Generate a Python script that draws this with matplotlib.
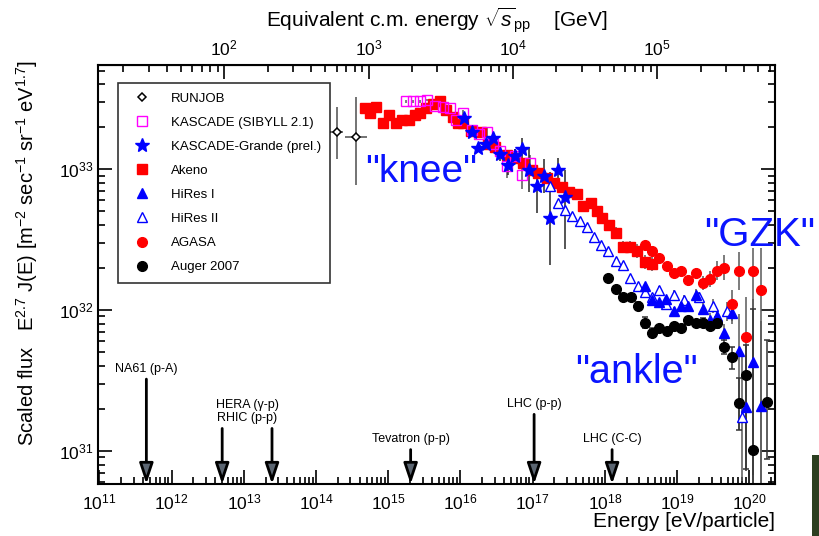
import numpy as np
import matplotlib
matplotlib.use('Agg')
import matplotlib.pyplot as plt
from matplotlib.lines import Line2D
from matplotlib.patches import Rectangle
from matplotlib.ticker import LogLocator, FixedLocator, NullFormatter, LogFormatterSciNotation

plt.rcParams['font.family'] = ['Liberation Sans', 'DejaVu Sans']
plt.rcParams['mathtext.fontset'] = 'custom'
plt.rcParams['mathtext.rm'] = 'Liberation Sans'
plt.rcParams['mathtext.it'] = 'Liberation Sans:italic'
plt.rcParams['mathtext.bf'] = 'Liberation Sans:bold'

# all values as log10(E/eV) and log10(flux)
runjob_lgE = [14.29, 14.55]
runjob_lgF = [33.26, 33.23]
runjob_xerr = [0.09, 0.15]
runjob_lo = [0.19, 0.34]
runjob_hi = [0.18, 0.28]

akeno_lgE = [14.68, 14.75, 14.83, 14.93, 15.01, 15.11, 15.19, 15.29, 15.37, 15.44,
             15.52, 15.62, 15.72, 15.80, 15.90, 15.97, 16.03, 16.15, 16.28, 16.38,
             16.48, 16.64, 16.73, 16.87, 16.99, 17.07, 17.20, 17.29, 17.41, 17.50,
             17.61, 17.70, 17.81, 17.89, 17.96, 18.06, 18.15, 18.25, 18.35, 18.44,
             18.55, 18.65]
akeno_lgF = [33.43, 33.40, 33.44, 33.33, 33.38, 33.33, 33.35, 33.35, 33.38, 33.40,
             33.43, 33.46, 33.48, 33.42, 33.37, 33.33, 33.33, 33.27, 33.26, 33.18,
             33.16, 33.10, 33.08, 33.04, 32.99, 32.97, 32.94, 32.90, 32.87, 32.84,
             32.82, 32.74, 32.76, 32.70, 32.65, 32.60, 32.55, 32.45, 32.45, 32.42,
             32.34, 32.33]
akeno_err = [0.01, 0.01, 0.01, 0.01, 0.01, 0.01, 0.01, 0.01, 0.01, 0.01,
             0.01, 0.01, 0.01, 0.01, 0.01, 0.01, 0.01, 0.01, 0.01, 0.01,
             0.01, 0.01, 0.01, 0.01, 0.01, 0.01, 0.01, 0.01, 0.02, 0.02,
             0.02, 0.03, 0.03, 0.03, 0.03, 0.03, 0.04, 0.04, 0.04, 0.05,
             0.05, 0.05]

kascade_lgE = [15.25, 15.34, 15.44, 15.54, 15.65, 15.76, 15.85, 15.94, 16.03, 16.16,
               16.26, 16.37, 16.45, 16.55, 16.64, 16.75, 16.85, 16.96]
kascade_lgF = [33.48, 33.48, 33.48, 33.49, 33.45, 33.44, 33.43, 33.35, 33.40, 33.28,
               33.25, 33.26, 33.18, 33.13, 33.02, 33.09, 32.96, 33.04]
kascade_err = [0.01, 0.01, 0.01, 0.01, 0.01, 0.01, 0.01, 0.01, 0.02, 0.02,
               0.02, 0.03, 0.03, 0.04, 0.08, 0.05, 0.10, 0.06]

grande_lgE = [16.05, 16.16, 16.24, 16.35, 16.45, 16.55, 16.66, 16.75, 16.85, 16.95,
              17.06, 17.16, 17.24, 17.35, 17.45]
grande_lgF = [33.36, 33.26, 33.15, 33.18, 33.22, 33.11, 33.03, 33.09, 33.14, 32.99,
              32.88, 32.95, 32.65, 32.99, 32.80]
grande_lo = [0.02, 0.02, 0.03, 0.03, 0.04, 0.05, 0.07, 0.05, 0.08, 0.15,
             0.19, 0.12, 0.33, 0.12, 0.37]
grande_hi = [0.02, 0.02, 0.03, 0.03, 0.04, 0.05, 0.06, 0.05, 0.08, 0.17,
             0.11, 0.12, 0.33, 0.09, 0.19]

hires1_lgE = [18.55, 18.65, 18.75, 18.85, 18.96, 19.05, 19.15, 19.26, 19.36, 19.46,
              19.55, 19.65, 19.76, 19.86, 19.95, 20.05, 20.16]
hires1_lgF = [32.17, 32.07, 32.06, 32.08, 31.99, 32.03, 32.03, 32.11, 32.01, 31.93,
              31.96, 31.84, 31.98, 31.71, 31.31, 31.63, 31.32]
hires1_lo = [0.02, 0.02, 0.02, 0.02, 0.03, 0.03, 0.03, 0.04, 0.04, 0.05,
             0.05, 0.06, 0.08, 0.56, 0.45, 0.80, 1.20]
hires1_hi = [0.02, 0.02, 0.02, 0.02, 0.03, 0.03, 0.03, 0.04, 0.04, 0.05,
             0.05, 0.06, 0.08, 0.26, 0.44, 0.45, 0.60]

hires2_lgE = [17.24, 17.35, 17.45, 17.54, 17.65, 17.75, 17.85, 17.95, 18.04, 18.15,
              18.25, 18.35, 18.46, 18.55, 18.65, 18.75, 18.85, 18.96, 19.10, 19.30,
              19.50, 19.69, 19.90]
hires2_lgF = [32.88, 32.76, 32.71, 32.67, 32.63, 32.59, 32.52, 32.46, 32.42, 32.35,
              32.32, 32.23, 32.17, 32.13, 32.09, 32.14, 32.04, 32.11, 32.07, 32.09,
              32.03, 31.99, 31.24]
hires2_err = [0.01, 0.01, 0.01, 0.01, 0.01, 0.01, 0.01, 0.01, 0.01, 0.01,
              0.01, 0.02, 0.02, 0.02, 0.02, 0.03, 0.03, 0.03, 0.04, 0.04,
              0.05, 0.07, 0.45]

agasa_lgE = [18.55, 18.65, 18.75, 18.86, 18.96, 19.05, 19.15, 19.26, 19.36, 19.46,
             19.55, 19.65, 19.76, 19.86, 19.95, 20.05, 20.16]
agasa_lgF = [32.46, 32.42, 32.37, 32.31, 32.26, 32.28, 32.21, 32.26, 32.19, 32.22,
             32.28, 32.30, 32.04, 32.28, 31.81, 32.28, 32.14]
agasa_lo = [0.02, 0.02, 0.02, 0.03, 0.03, 0.03, 0.04, 0.04, 0.05, 0.06,
            0.07, 0.09, 0.12, 0.14, 0.95, 1.60, 1.50]
agasa_hi = [0.02, 0.02, 0.02, 0.03, 0.03, 0.03, 0.04, 0.04, 0.05, 0.06,
            0.07, 0.09, 0.10, 0.13, 0.28, 0.16, 0.30]

auger_lgE = [18.04, 18.15, 18.25, 18.36, 18.46, 18.55, 18.65, 18.75, 18.86, 18.96,
             19.05, 19.15, 19.26, 19.36, 19.46, 19.55, 19.65, 19.76, 19.86, 19.95,
             20.05, 20.25]
auger_lgF = [32.23, 32.15, 32.09, 32.09, 32.03, 31.91, 31.84, 31.87, 31.85, 31.89,
             31.87, 31.93, 31.91, 31.91, 31.89, 31.91, 31.74, 31.67, 31.34, 31.54,
             31.01, 31.35]
auger_lo = [0.01, 0.01, 0.02, 0.02, 0.03, 0.04, 0.03, 0.02, 0.02, 0.02,
            0.02, 0.02, 0.02, 0.03, 0.03, 0.04, 0.05, 0.09, 0.19, 0.67,
            1.00, 0.41]
auger_hi = [0.01, 0.01, 0.02, 0.02, 0.03, 0.04, 0.03, 0.02, 0.02, 0.02,
            0.02, 0.02, 0.02, 0.03, 0.03, 0.04, 0.05, 0.07, 0.18, 0.21,
            1.00, 0.44]

# accelerator equivalent energies (log10 E/eV)
colliders = ['NA61 (p-A)', 'HERA (γ-p)', 'RHIC (p-p)', 'Tevatron (p-p)', 'LHC (p-p)', 'LHC (C-C)']
collider_lgE = [11.65, 12.70, 13.39, 15.31, 17.02, 18.10]

# tick decades
energy_decades = [11, 12, 13, 14, 15, 16, 17, 18, 19, 20]
sqrts_decades = [2, 3, 4, 5]
flux_decades = [31, 32, 33]


def draw(lgE, lgF, lo, hi, ecolor='0.35', capsize=0, **mk):
    E = 10 ** np.asarray(lgE)
    F = 10 ** np.asarray(lgF)
    lo = np.asarray(lo)
    hi = np.asarray(hi)
    yerr = [F - 10 ** (np.asarray(lgF) - lo), 10 ** (np.asarray(lgF) + hi) - F]
    ax.errorbar(E, F, yerr=yerr, fmt='none', ecolor=ecolor, elinewidth=1.1,
                capsize=capsize, capthick=1.1, zorder=2)
    ax.plot(E, F, ls='none', zorder=3, **mk)


fig = plt.figure(figsize=(8.2, 5.36), dpi=100)
ax = fig.add_axes([0.1195, 0.097, 0.8256, 0.7817])
ax.set_xscale('log')
ax.set_yscale('log')
ax.set_xlim(10 ** 10.98, 10 ** 20.356)
ax.set_ylim(10 ** 30.766, 10 ** 33.738)

# RUNJOB with horizontal bars
rj_E = 10 ** np.asarray(runjob_lgE)
rj_F = 10 ** np.asarray(runjob_lgF)
rj_xerr = [rj_E - 10 ** (np.asarray(runjob_lgE) - runjob_xerr),
           10 ** (np.asarray(runjob_lgE) + runjob_xerr) - rj_E]
rj_yerr = [rj_F - 10 ** (np.asarray(runjob_lgF) - runjob_lo),
           10 ** (np.asarray(runjob_lgF) + runjob_hi) - rj_F]
ax.errorbar(rj_E, rj_F, xerr=rj_xerr, yerr=rj_yerr, fmt='none', ecolor='0.3',
            elinewidth=1.1, zorder=2)
ax.plot(rj_E, rj_F, ls='none', marker='D', ms=4.5, mfc='white', mec='black', mew=1.1, zorder=3)

draw(akeno_lgE, akeno_lgF, akeno_err, akeno_err,
     marker='s', ms=7, color='#ff0000', mec='#ff0000')
draw(kascade_lgE, kascade_lgF, kascade_err, kascade_err,
     marker='s', ms=7, mfc='none', mec='#ff00ff', mew=1.0)
draw(grande_lgE, grande_lgF, grande_lo, grande_hi, ecolor='0.15',
     marker='*', ms=10, color='#0000ff', mec='#0000ff')
draw(hires2_lgE, hires2_lgF, hires2_err, hires2_err,
     marker='^', ms=7, mfc='white', mec='#0000ff', mew=1.0)
draw(hires1_lgE, hires1_lgF, hires1_lo, hires1_hi,
     marker='^', ms=7, color='#0000ff', mec='#0000ff')
draw(agasa_lgE, agasa_lgF, agasa_lo, agasa_hi,
     marker='o', ms=7, color='#ff0000', mec='#ff0000')
draw(auger_lgE, auger_lgF, auger_lo, auger_hi, ecolor='0.2', capsize=2,
     marker='o', ms=7, color='black', mec='black')

# accelerator arrows
arrow_top = [31.51, 31.16, 31.16, 31.01, 31.26, 31.01]
ybot = 10 ** 30.766
for name, lg, top in zip(colliders, collider_lgE, arrow_top):
    ax.annotate('', xy=(10 ** lg, ybot), xytext=(10 ** lg, 10 ** top),
                arrowprops=dict(arrowstyle='-|>,head_length=1.25,head_width=0.42',
                                lw=2.0, fc='#5c6672', ec='black',
                                shrinkA=0, shrinkB=0), zorder=4)
    if name.startswith('HERA') or name.startswith('RHIC'):
        continue
    ax.annotate(name, xy=(10 ** lg, 10 ** top), xytext=(0, 3),
                textcoords='offset points', ha='center', va='bottom', fontsize=9)
hera_x = 10 ** ((collider_lgE[1] + collider_lgE[2]) / 2)
ax.annotate(colliders[1] + '\n' + colliders[2], xy=(hera_x, 10 ** arrow_top[1]),
            xytext=(0, 3), textcoords='offset points', ha='center', va='bottom',
            fontsize=9, linespacing=1.1)

# region labels
blue = '#0a14ff'
ax.text(10 ** 15.45, 10 ** 32.98, '"knee"', color=blue, fontsize=28, ha='center', va='center')
ax.text(10 ** 18.44, 10 ** 31.56, '"ankle"', color=blue, fontsize=28.5, ha='center', va='center')
ax.text(10 ** 20.14, 10 ** 32.53, '"GZK"', color=blue, fontsize=29, ha='center', va='center',
        clip_on=False)

# axes cosmetics
ax.xaxis.set_major_locator(FixedLocator([10.0 ** d for d in energy_decades]))
ax.xaxis.set_major_formatter(LogFormatterSciNotation())
ax.xaxis.set_minor_locator(LogLocator(base=10, subs=np.arange(2, 10), numticks=30))
ax.xaxis.set_minor_formatter(NullFormatter())
ax.yaxis.set_major_locator(FixedLocator([10.0 ** d for d in flux_decades]))
ax.yaxis.set_major_formatter(LogFormatterSciNotation())
ax.yaxis.set_minor_locator(LogLocator(base=10, subs=np.arange(2, 10), numticks=30))
ax.yaxis.set_minor_formatter(NullFormatter())
ax.tick_params(which='both', direction='in', top=False, right=True, width=1.2, labelsize=12.5)
ax.tick_params(which='major', length=10)
ax.tick_params(which='minor', length=5)
ax.tick_params(axis='x', pad=6)
for s in ax.spines.values():
    s.set_linewidth(1.5)


# fixed-target equivalent: E_lab = s / (2 m_p)
def fwd(E):
    return 10 ** ((np.log10(np.maximum(E, 1e-30)) - 8.727) / 2.0)


def inv(S):
    return 10 ** (8.727 + 2.0 * np.log10(np.maximum(S, 1e-30)))


secax = ax.secondary_xaxis('top', functions=(fwd, inv))
secax.xaxis.set_major_locator(FixedLocator([10.0 ** d for d in sqrts_decades]))
secax.xaxis.set_major_formatter(LogFormatterSciNotation())
secax.xaxis.set_minor_locator(LogLocator(base=10, subs=np.arange(2, 10), numticks=30))
secax.xaxis.set_minor_formatter(NullFormatter())
secax.tick_params(which='both', direction='in', width=1.2, labelsize=12.5, pad=5)
secax.tick_params(which='major', length=10)
secax.tick_params(which='minor', length=5)
secax.set_xlabel(r'Equivalent c.m. energy $\sqrt{s}_{\rm pp}$    [GeV]', fontsize=15, labelpad=8)

ax.set_xlabel('Energy [eV/particle]', fontsize=15, loc='right')
ax.xaxis.set_label_coords(1.0, -0.068)
ax.set_ylabel(r'Scaled flux   E$^{2.7}$ J(E) [m$^{-2}$ sec$^{-1}$ sr$^{-1}$ eV$^{1.7}$]', fontsize=14.5)
ax.yaxis.set_label_coords(-0.086, 0.55)

# legend
handles = [
    Line2D([], [], ls='none', marker='D', ms=4.5, mfc='white', mec='black', mew=1.1),
    Line2D([], [], ls='none', marker='s', ms=7, mfc='none', mec='#ff00ff', mew=1.0),
    Line2D([], [], ls='none', marker='*', ms=10, color='#0000ff'),
    Line2D([], [], ls='none', marker='s', ms=7, color='#ff0000'),
    Line2D([], [], ls='none', marker='^', ms=7, color='#0000ff'),
    Line2D([], [], ls='none', marker='^', ms=7, mfc='white', mec='#0000ff', mew=1.0),
    Line2D([], [], ls='none', marker='o', ms=7, color='#ff0000'),
    Line2D([], [], ls='none', marker='o', ms=7, color='black'),
]
labels = ['RUNJOB', 'KASCADE (SIBYLL 2.1)', 'KASCADE-Grande (prel.)', 'Akeno',
          'HiRes I', 'HiRes II', 'AGASA', 'Auger 2007']
leg = ax.legend(handles, labels, loc='upper left', bbox_to_anchor=(0.0295, 0.957),
                fontsize=9.5, frameon=True, fancybox=False, edgecolor='black',
                borderpad=0.7, handlelength=2.3, handletextpad=1.0, labelspacing=0.9,
                borderaxespad=0)
leg.get_frame().set_linewidth(1.2)

# cropped photo strip at the right edge
fig.add_artist(Rectangle((812 / 820, 0), 8 / 820, 81 / 536, transform=fig.transFigure,
                         color='#2c3f20', lw=0))

fig.savefig('out.png', dpi=100)
